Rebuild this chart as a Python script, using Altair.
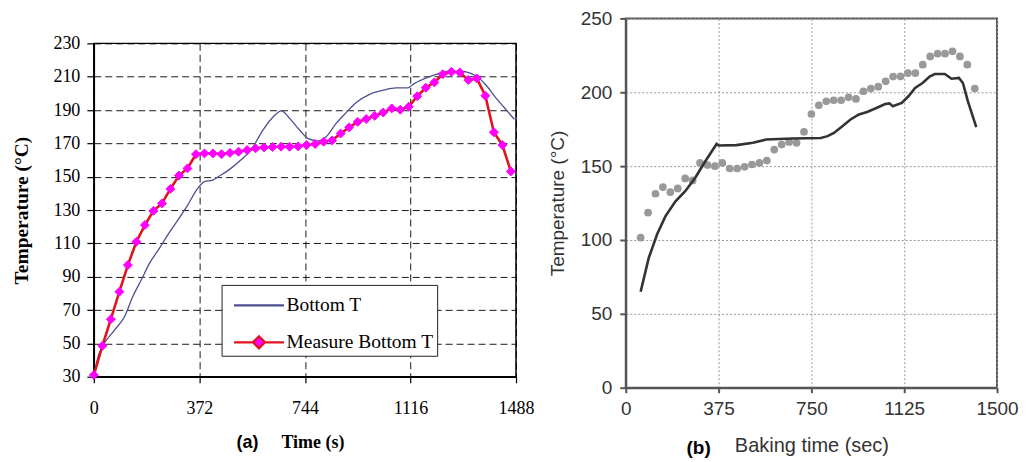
import altair as alt
import pandas as pd

# ---------------- data : panel (a) ----------------
a_series = ["Bottom T", "Measure Bottom T"]
a_xticks = [0, 372, 744, 1116, 1488]
a_yticks = [30, 50, 70, 90, 110, 130, 150, 170, 190, 210, 230]

a_meas_time = list(range(0, 1471, 30))
a_meas_temp = [31, 48.5, 64.5, 81, 97, 111, 121, 129.5, 134, 142.7,
               150.7, 155, 163.5, 164, 164, 163.5, 164.3, 165, 166, 167,
               167.6, 167.8, 168, 168, 168.2, 169, 169.6, 171, 171.8, 175.9,
               179.6, 182.9, 184.6, 186.5, 188.5, 191, 190.2, 192, 198.3, 203.4,
               206.6, 211.5, 213, 212.5, 208, 209, 198.6, 176.7, 169, 153.2]

a_sim_time = [0, 15, 30, 73, 108, 137, 167, 196, 231, 260,
              296, 331, 366, 390, 419, 448, 483, 518, 554, 596,
              631, 661, 690, 725, 754, 790, 819, 854, 890, 925,
              972, 1018, 1066, 1106, 1130, 1148, 1183, 1218, 1253, 1288,
              1329, 1359, 1382, 1417, 1447, 1482]
a_sim_temp = [30, 42, 48, 58, 66, 78, 88, 98, 107, 115,
              124, 133, 143, 147, 148, 151, 155, 160, 166, 178,
              185.7, 189.5, 185, 178, 173, 171.5, 174, 182, 188.6, 194.5,
              199.4, 201.8, 203.3, 203.3, 206, 207.5, 210, 212, 213.3, 213.3,
              212, 209, 205, 197.3, 191.4, 184.5]

# ---------------- data : panel (b) ----------------
b_xticks = [0, 375, 750, 1125, 1500]
b_yticks = [0, 50, 100, 150, 200, 250]

b_meas_time = list(range(60, 1411, 30))
b_meas_temp = [101.6, 118.5, 131.3, 135.8, 132.4, 134.9, 141.7, 140.3, 152.2, 150.7,
               150, 152.2, 148.4, 148.4, 149.5, 151.1, 152.2, 153.8, 161.2, 164.6,
               166.4, 165.8, 173.2, 185.3, 191.2, 193.9, 194.6, 194.6, 196.6, 195.5,
               200.7, 202.5, 203.8, 207.4, 210.6, 210.8, 213, 213, 218.7, 224.3,
               226.1, 226.1, 227.7, 224.3, 218.7, 202.5]

b_sim_time = [60, 93, 127, 160, 200, 240, 280, 320, 367, 375,
              447, 514, 567, 674, 788, 815, 841, 875, 908, 942,
              975, 1008, 1048, 1065, 1079, 1115, 1142, 1169, 1199, 1229,
              1249, 1289, 1316, 1346, 1362, 1382, 1416]
b_sim_temp = [65, 88, 104, 116, 126, 133, 142, 153, 165, 164,
              164.2, 165.8, 168, 168.7, 169, 170.3, 172.5, 177, 181.6, 185,
              186.7, 189, 192, 192.5, 190.5, 192.8, 197.3, 203, 206.3, 210.8,
              212.4, 212.4, 209.2, 209.7, 206.3, 194, 176.4]

SERIF = "Liberation Serif"
SANS = "Liberation Sans"
NAVY = "#4c5090"
RED = "#e0141c"
MAG = "#ff00ff"

# ---------------- panel (a) ----------------
df_a_sim = pd.DataFrame({"t": a_sim_time, "temp": a_sim_temp})
df_a_meas = pd.DataFrame({"t": a_meas_time, "temp": a_meas_temp})
df_a_leg = pd.DataFrame({"series": a_series})

xa = alt.X("t:Q", scale=alt.Scale(domain=[0, 1488], nice=False, zero=False),
           axis=alt.Axis(values=a_xticks, format="d", title="Time (s)",
                         titleFont=SERIF, titleFontSize=18, titleFontWeight="bold",
                         titleColor="black", titlePadding=16, titleX=219,
                         labelFont=SERIF, labelFontSize=18, labelColor="black",
                         labelPadding=17, labelFlush=False,
                         tickSize=6, tickColor="black", tickWidth=1.2,
                         domainColor="black", domainWidth=1.5,
                         grid=True, gridColor="black", gridDash=[7, 4],
                         gridWidth=1, gridOpacity=0.9))
ya = alt.Y("temp:Q", scale=alt.Scale(domain=[30, 230], nice=False, zero=False),
           axis=alt.Axis(values=a_yticks, format="d", title="Temperature (°C)",
                         titleFont=SERIF, titleFontSize=19.5, titleFontWeight="bold",
                         titleColor="black", titlePadding=21,
                         labelFont=SERIF, labelFontSize=18, labelColor="black",
                         labelPadding=7, tickSize=7, tickColor="black", tickWidth=1.2,
                         domainColor="black", domainWidth=1.5,
                         grid=True, gridColor="black", gridDash=[7, 4],
                         gridWidth=1, gridOpacity=0.9))

a_sim = alt.Chart(df_a_sim).mark_line(color=NAVY, strokeWidth=1.3,
                                      interpolate="monotone").encode(x=xa, y=ya)
a_line = alt.Chart(df_a_meas).mark_line(color=RED, strokeWidth=2.6).encode(x=xa, y=ya)
a_pts = alt.Chart(df_a_meas).mark_point(shape="diamond", filled=True, fill=MAG,
                                        stroke=MAG, strokeWidth=1, size=80,
                                        opacity=1).encode(x=xa, y=ya)

path_line = "M-0.5,0L2.625,0"
path_meas = ("M-0.5,0L0.68,0M1.44,0L2.625,0"
             "M0.68,0L1.06,-0.38L1.44,0L1.06,0.38Z")
leg = alt.Legend(title=None, orient="none", legendX=128, legendY=267,
                 direction="vertical", fillColor="white", strokeColor="#222",
                 padding=3, symbolSize=1024,
                 symbolStrokeWidth=2.2, symbolOpacity=1,
                 labelFont=SERIF, labelFontSize=19.5, labelColor="black",
                 labelOffset=27, rowPadding=10)
a_leg = alt.Chart(df_a_leg).mark_point(opacity=1).encode(
    shape=alt.Shape("series:N", scale=alt.Scale(domain=a_series,
                                                range=[path_line, path_meas]), legend=leg),
    stroke=alt.Stroke("series:N", scale=alt.Scale(domain=a_series,
                                                  range=[NAVY, RED]), legend=leg),
    fill=alt.Fill("series:N", scale=alt.Scale(domain=a_series,
                                              range=["transparent", MAG]), legend=leg),
).transform_filter("false")

a_tag = alt.Chart(pd.DataFrame({"label": ["(a)"]})).mark_text(
    font=SANS, fontSize=18, fontWeight="bold", color="black", baseline="middle"
).encode(text="label:N", x=alt.value(154), y=alt.value(400))

chart_a = alt.layer(a_sim, a_line, a_pts, a_leg, a_tag).properties(
    width=423, height=334,
    view=alt.ViewBackground(stroke="black", strokeWidth=1.5),
)

spacer = alt.Chart(pd.DataFrame({"v": [0]})).mark_point(opacity=0).properties(
    width=423, height=2, view=alt.ViewBackground(stroke="transparent"))

col_a = alt.vconcat(spacer, chart_a, spacing=10)

# ---------------- panel (b) ----------------
df_b_sim = pd.DataFrame({"t": b_sim_time, "temp": b_sim_temp})
df_b_meas = pd.DataFrame({"t": b_meas_time, "temp": b_meas_temp})

xb = alt.X("t:Q", scale=alt.Scale(domain=[0, 1500], nice=False, zero=False),
           axis=alt.Axis(values=b_xticks, format="d", title="Baking time (sec)",
                         titleFont=SANS, titleFontSize=20, titleFontWeight="normal",
                         titleColor="#333333", titlePadding=17,
                         labelFont=SANS, labelFontSize=19, labelColor="#333333",
                         labelPadding=7, labelFlush=False,
                         tickSize=5, tickColor="#555555", tickWidth=2,
                         domainColor="#555555", domainWidth=2,
                         grid=True, gridColor="#999999", gridDash=[2, 2], gridWidth=1))
yb = alt.Y("temp:Q", scale=alt.Scale(domain=[0, 250], nice=False, zero=False),
           axis=alt.Axis(values=b_yticks, format="d", title="Temperature (°C)",
                         titleFont=SANS, titleFontSize=19, titleFontWeight="normal",
                         titleColor="#333333", titlePadding=13,
                         labelFont=SANS, labelFontSize=19, labelColor="#333333",
                         labelPadding=8, tickSize=6, tickColor="#555555", tickWidth=2,
                         domainColor="#555555", domainWidth=2,
                         grid=True, gridColor="#999999", gridDash=[2, 2], gridWidth=1))

b_pts = alt.Chart(df_b_meas).mark_circle(color="#999999", size=60, opacity=1).encode(x=xb, y=yb)
b_line = alt.Chart(df_b_sim).mark_line(color="#333333", strokeWidth=2.6).encode(x=xb, y=yb)
b_tag = alt.Chart(pd.DataFrame({"label": ["(b)"]})).mark_text(
    font=SANS, fontSize=19, fontWeight="bold", color="black", baseline="middle"
).encode(text="label:N", x=alt.value(73), y=alt.value(430))

chart_b = alt.layer(b_pts, b_line, b_tag).properties(
    width=372, height=370,
    view=alt.ViewBackground(stroke="#555555", strokeWidth=2),
)

chart = alt.hconcat(col_a, chart_b, spacing=12).properties(
    padding={"left": 3, "top": 0, "right": 0, "bottom": 0},
    background="white",
)

chart.save("out.html", embed_options={"renderer": "svg", "actions": False})
